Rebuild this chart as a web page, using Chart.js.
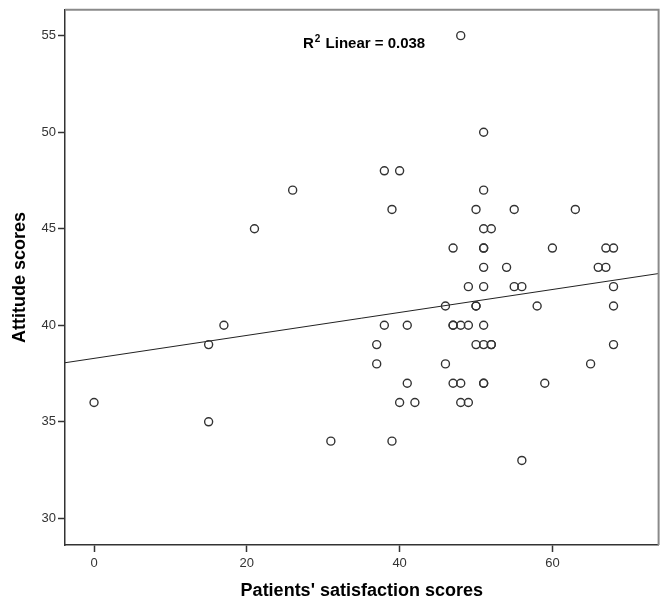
<!DOCTYPE html>
<html>
<head>
<meta charset="utf-8">
<script src="https://cdn.jsdelivr.net/npm/chart.js@4.4.0/dist/chart.umd.min.js"></script>
<style>
  html, body { margin: 0; padding: 0; background: #fff; }
</style>
</head>
<body>
<canvas id="scatterChart" width="664" height="603"></canvas>
<script>
// Patients' satisfaction (x) vs attitude (y)
var satisfaction = [0, 15, 15, 17, 21, 26, 31, 37, 37, 38, 38, 39, 39, 40, 40, 41, 41, 42,
    46, 46, 47, 47, 47, 47, 48, 48, 48, 48, 49, 49, 49, 50, 50, 50, 50,
    51, 51, 51, 51, 51, 51, 51, 51, 51, 51, 51, 52, 52, 52, 54, 55, 55, 56, 56,
    58, 59, 60, 63, 65, 66, 67, 67, 68, 68, 68, 68];
var attitude = [36, 39, 35, 40, 45, 47, 34, 39, 38, 48, 40, 46, 34, 48, 36, 40, 37, 36,
    41, 38, 44, 40, 40, 37, 55, 40, 37, 36, 42, 40, 36, 46, 41, 41, 39,
    50, 47, 45, 44, 44, 43, 42, 40, 39, 37, 37, 45, 39, 39, 43, 46, 42, 42, 33,
    41, 37, 44, 46, 38, 43, 43, 44, 44, 42, 41, 39];

// fit line end points (R2 linear = 0.038)
var fitX = [-3.8, 73.9];
var fitY = [38.06, 42.68];
var fitLabel = "0.038";

var xTicks = [0, 20, 40, 60];
var yTicks = [30, 35, 40, 45, 50, 55];

var points = [];
for (var i = 0; i < satisfaction.length; i++) {
    points.push({ x: satisfaction[i], y: attitude[i] });
}
var fitPoints = [];
for (var j = 0; j < fitX.length; j++) {
    fitPoints.push({ x: fitX[j], y: fitY[j] });
}

var FONT = '"Liberation Sans", Arial, sans-serif';

// grey frame on top/right + the R2 note
var framePlugin = {
    id: 'frame',
    afterDraw: function (chart) {
        var ctx = chart.ctx, a = chart.chartArea;
        ctx.save();
        ctx.strokeStyle = '#8a8a8a';
        ctx.lineWidth = 2;
        ctx.beginPath();
        ctx.moveTo(a.left, a.top);
        ctx.lineTo(a.right, a.top);
        ctx.lineTo(a.right, a.bottom);
        ctx.stroke();

        ctx.fillStyle = '#000';
        ctx.textBaseline = 'alphabetic';
        ctx.textAlign = 'left';
        var x = 303, y = 48;
        ctx.font = 'bold 15px ' + FONT;
        ctx.fillText('R', x, y);
        x += ctx.measureText('R').width + 1;
        ctx.font = 'bold 10px ' + FONT;
        ctx.fillText('2', x, y - 6);
        x += ctx.measureText('2').width + 1;
        ctx.font = 'bold 15px ' + FONT;
        ctx.fillText(' Linear = ' + fitLabel, x, y);
        ctx.restore();
    }
};

var config = {
    type: 'scatter',
    data: {
        datasets: [{
            label: 'Attitude',
            data: points,
            pointStyle: 'circle',
            pointRadius: 4,
            pointHoverRadius: 4,
            pointBorderWidth: 1.4,
            borderColor: '#333',
            backgroundColor: 'rgba(255,255,255,0)'
        }, {
            label: 'Linear fit',
            type: 'line',
            data: fitPoints,
            showLine: true,
            pointRadius: 0,
            borderColor: '#222',
            borderWidth: 1,
            fill: false
        }]
    },
    options: {
        responsive: false,
        animation: false,
        layout: { padding: { top: 9, right: 5, left: 0, bottom: 0 } },
        plugins: {
            legend: { display: false },
            tooltip: { enabled: false }
        },
        scales: {
            x: {
                type: 'linear',
                min: -3.8,
                max: 73.9,
                afterBuildTicks: function (scale) {
                    scale.ticks = xTicks.map(function (v) { return { value: v }; });
                },
                afterFit: function (scale) { scale.height = 58; },
                grid: { drawOnChartArea: false, tickLength: 7, tickColor: '#333', tickWidth: 1.5 },
                border: { display: true, color: '#333', width: 1.5 },
                ticks: {
                    color: '#333',
                    padding: 4,
                    maxRotation: 0,
                    font: { family: FONT, size: 13 }
                },
                title: {
                    display: true,
                    text: "Patients' satisfaction scores",
                    color: '#000',
                    padding: { top: 0, bottom: 1 },
                    font: { family: FONT, size: 18, weight: 'bold' }
                }
            },
            y: {
                type: 'linear',
                min: 28.62,
                max: 56.34,
                afterBuildTicks: function (scale) {
                    scale.ticks = yTicks.map(function (v) { return { value: v }; });
                },
                afterFit: function (scale) { scale.width = 65; },
                grid: { drawOnChartArea: false, tickLength: 7, tickColor: '#333', tickWidth: 1.5 },
                border: { display: true, color: '#333', width: 1.5 },
                ticks: {
                    color: '#333',
                    padding: 2,
                    font: { family: FONT, size: 13 }
                },
                title: {
                    display: true,
                    text: 'Attitude scores',
                    color: '#000',
                    padding: { top: 9, bottom: 0 },
                    font: { family: FONT, size: 18, weight: 'bold' }
                }
            }
        }
    },
    plugins: [framePlugin]
};

var ctx = document.getElementById('scatterChart').getContext('2d');
var scatterChart = new Chart(ctx, config);
</script>
</body>
</html>
